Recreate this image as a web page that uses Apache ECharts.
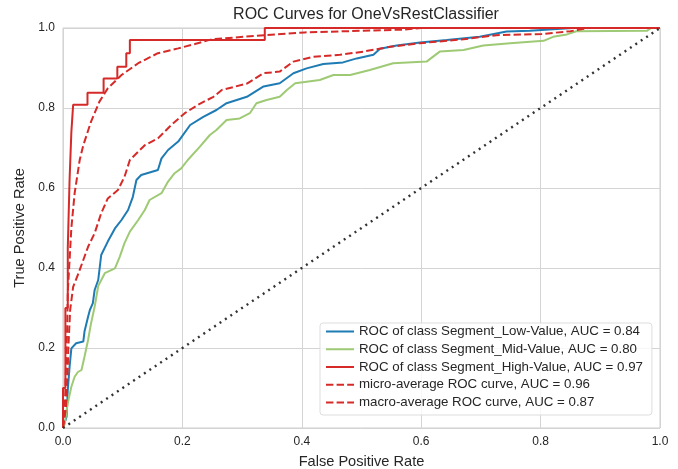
<!DOCTYPE html>
<html>
<head>
    <meta charset="UTF-8">
    <title>ROC Curves for OneVsRestClassifier</title>
    <script src="https://cdn.jsdelivr.net/npm/echarts@6/dist/echarts.min.js"></script>
    <style>
        html, body { margin: 0; padding: 0; background: #fff; }
        #chart { width: 678px; height: 469px; }
    </style>
</head>
<body>
    <div id="chart"></div>

<script type="text/javascript">
    // ROC data
    var lowFpr = [0,0.006,0.008,0.011,0.014,0.022,0.034,0.036,0.042,0.045,0.05,0.053,0.059,0.064,0.075,0.087,0.098,0.109,0.117,0.123,0.131,0.159,0.165,0.176,0.193,0.213,0.235,0.257,0.274,0.308,0.336,0.363,0.386,0.408,0.436,0.469,0.492,0.52,0.531,0.559,0.598,0.643,0.698,0.743,0.782,0.854,1];
    var lowTpr = [0,0.028,0.095,0.153,0.199,0.212,0.216,0.241,0.278,0.295,0.312,0.345,0.37,0.4325,0.466,0.499,0.52,0.545,0.578,0.62,0.6325,0.645,0.674,0.695,0.716,0.7575,0.778,0.795,0.812,0.828,0.854,0.862,0.887,0.899,0.91,0.914,0.924,0.933,0.948,0.956,0.964,0.97,0.978,0.991,0.993,1,1];

    var midFpr = [0,0.003,0.008,0.014,0.0195,0.025,0.031,0.036,0.042,0.047,0.053,0.059,0.07,0.087,0.095,0.103,0.112,0.126,0.137,0.145,0.165,0.176,0.187,0.198,0.209,0.229,0.246,0.257,0.274,0.296,0.313,0.324,0.341,0.363,0.375,0.389,0.43,0.453,0.481,0.514,0.553,0.609,0.631,0.671,0.704,0.749,0.805,0.821,0.844,0.86,0.978,0.985,1];
    var midTpr = [0,0.012,0.062,0.103,0.128,0.14,0.145,0.178,0.22,0.262,0.303,0.355,0.387,0.399,0.428,0.462,0.491,0.52,0.545,0.57,0.587,0.616,0.637,0.649,0.67,0.703,0.7325,0.745,0.77,0.774,0.787,0.812,0.82,0.828,0.845,0.862,0.87,0.8825,0.8825,0.895,0.912,0.916,0.941,0.945,0.956,0.962,0.968,0.978,0.984,0.992,0.993,1,1];

    var highFpr = [0,0,0.004,0.004,0.008,0.008,0.011,0.011,0.014,0.014,0.017,0.017,0.041,0.041,0.068,0.068,0.091,0.091,0.106,0.106,0.112,0.112,0.338,0.338,1];
    var highTpr = [0,0.1,0.1,0.3,0.3,0.45,0.45,0.62,0.62,0.74,0.74,0.808,0.808,0.838,0.838,0.874,0.874,0.903,0.903,0.937,0.937,0.97,0.97,1,1];

    var microFpr = [0,0.003,0.005,0.007,0.008,0.011,0.014,0.0195,0.028,0.034,0.047,0.061,0.075,0.098,0.126,0.159,0.193,0.221,0.25,0.338,0.405,0.5,0.57,0.6,1];
    var microTpr = [0,0.05,0.15,0.25,0.34,0.42,0.5,0.587,0.67,0.707,0.766,0.816,0.849,0.8825,0.912,0.937,0.949,0.96,0.972,0.982,0.989,0.993,0.996,1,1];

    var macroFpr = [0,0.005,0.008,0.009,0.012,0.017,0.026,0.034,0.042,0.053,0.064,0.075,0.092,0.103,0.112,0.12,0.137,0.159,0.181,0.204,0.226,0.252,0.266,0.308,0.336,0.363,0.386,0.419,0.464,0.503,0.548,0.598,0.671,0.726,0.802,0.85,0.88,1];
    var macroTpr = [0,0.05,0.15,0.203,0.295,0.353,0.387,0.42,0.453,0.487,0.537,0.574,0.595,0.628,0.67,0.682,0.707,0.724,0.757,0.787,0.808,0.828,0.845,0.861,0.887,0.891,0.916,0.928,0.933,0.941,0.953,0.962,0.972,0.982,0.985,0.992,1,1];

    var chanceFpr = [0, 1];
    var chanceTpr = [0, 1];

    var seriesNames = [
        'ROC of class Segment_Low-Value, AUC = 0.84',
        'ROC of class Segment_Mid-Value, AUC = 0.80',
        'ROC of class Segment_High-Value, AUC = 0.97',
        'micro-average ROC curve, AUC = 0.96',
        'macro-average ROC curve, AUC = 0.87'
    ];

    function pairs(xs, ys) {
        var out = [];
        for (var i = 0; i < xs.length; i++) out.push([xs[i], ys[i]]);
        return out;
    }

    var font = "'Liberation Sans', Arial, sans-serif";
    var textColor = '#262626';
    var dash = [7.4, 3.2];

    function rocLine(name, data, color, type) {
        return {
            name: name,
            type: 'line',
            symbol: 'none',
            data: data,
            color: color,
            lineStyle: { color: color, width: 2, type: type || 'solid' },
            z: 3
        };
    }

    var myChart = echarts.init(document.getElementById('chart'));

    var option = {
        backgroundColor: '#ffffff',
        animation: false,
        title: {
            text: 'ROC Curves for OneVsRestClassifier',
            left: 361,
            textAlign: 'center',
            top: 2,
            textStyle: { fontFamily: font, fontSize: 16, fontWeight: 'normal', color: textColor }
        },
        grid: {
            left: 63, right: 18, top: 28, bottom: 41,
            outerBoundsMode: 'none',
            containLabel: false,
            show: true,
            borderColor: '#cccccc',
            borderWidth: 1
        },
        legend: {
            orient: 'vertical',
            left: 320,
            top: 323,
            padding: [2, 9, 6, 5],
            itemWidth: 28,
            itemHeight: 14,
            itemGap: 4.75,
            itemTextGap: 9,
            itemStyle: { opacity: 0 },
            backgroundColor: 'rgba(255,255,255,0.8)',
            borderColor: '#dddddd',
            borderWidth: 1,
            borderRadius: 3,
            data: seriesNames,
            textStyle: { fontFamily: font, fontSize: 13.3, color: textColor }
        },
        xAxis: {
            type: 'value',
            min: 0, max: 1, interval: 0.2,
            name: 'False Positive Rate',
            nameLocation: 'middle',
            nameGap: 26,
            nameTextStyle: { fontFamily: font, fontSize: 14.6, color: textColor },
            axisLine: { show: false },
            axisTick: { show: false },
            axisLabel: {
                margin: 8,
                fontFamily: font, fontSize: 12, color: textColor,
                formatter: function (v) { return v.toFixed(1); }
            },
            splitLine: { show: true, lineStyle: { color: '#d4d4d4', width: 1 } }
        },
        yAxis: {
            type: 'value',
            min: 0, max: 1, interval: 0.2,
            name: 'True Positive Rate',
            nameLocation: 'middle',
            nameGap: 29,
            nameTextStyle: { fontFamily: font, fontSize: 14.6, color: textColor },
            axisLine: { show: false },
            axisTick: { show: false },
            axisLabel: {
                margin: 8,
                fontFamily: font, fontSize: 12, color: textColor,
                formatter: function (v) { return v.toFixed(1); }
            },
            splitLine: { show: true, lineStyle: { color: '#d4d4d4', width: 1 } }
        },
        series: [
            rocLine(seriesNames[0], pairs(lowFpr, lowTpr), '#1f7bb3'),
            rocLine(seriesNames[1], pairs(midFpr, midTpr), '#9fca75'),
            rocLine(seriesNames[2], pairs(highFpr, highTpr), '#d62a28'),
            rocLine(seriesNames[3], pairs(microFpr, microTpr), '#d62a28', dash),
            rocLine(seriesNames[4], pairs(macroFpr, macroTpr), '#d62a28', dash),
            {
                name: 'chance',
                type: 'line',
                symbol: 'none',
                data: pairs(chanceFpr, chanceTpr),
                lineStyle: { color: '#333333', width: 2.4, type: [2, 4.5] },
                z: 4
            }
        ]
    };

    myChart.setOption(option);
</script>
</body>
</html>
